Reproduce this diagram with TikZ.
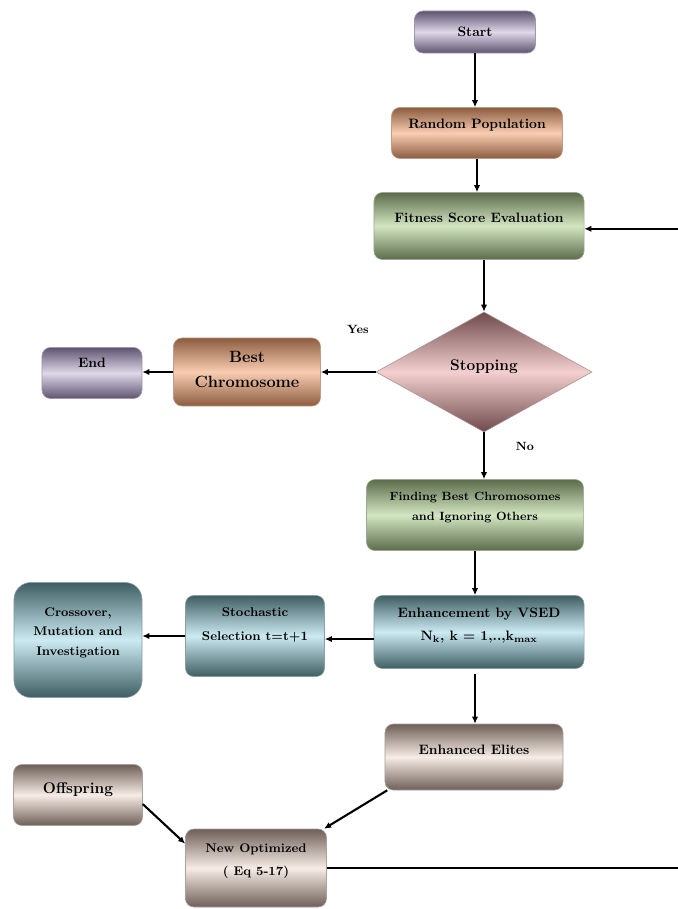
\documentclass[tikz,border=0pt]{standalone}
\usetikzlibrary{shapes.geometric,arrows.meta}

\definecolor{lilacdark}{HTML}{5E5470}
\definecolor{lilaclight}{HTML}{DED8E8}
\definecolor{peachdark}{HTML}{8C5C3E}
\definecolor{peachlight}{HTML}{F9CDB2}
\definecolor{sagedark}{HTML}{5B6C4A}
\definecolor{sagelight}{HTML}{D3E6C2}
\definecolor{rosedark}{HTML}{6E4A4C}
\definecolor{roselight}{HTML}{F3CFCF}
\definecolor{tealdark}{HTML}{3F5E63}
\definecolor{teallight}{HTML}{CBEAF2}
\definecolor{taupedark}{HTML}{6E6058}
\definecolor{taupelight}{HTML}{F7ECE6}

\begin{document}
\begin{tikzpicture}[
  x=0.025cm, y=-0.025cm,
  shade/.style 2 args={
    top color=#1,
    bottom color=#1,
    middle color=#2
  },
  box/.style={
    rectangle,
    rounded corners=6pt,
    draw=#1!60,
    line width=0.4pt,
    align=center,
    inner sep=2pt,
    font=\bfseries\fontsize{9.7}{14}\selectfont
  },
  lilacbox/.style={box=lilacdark, shade={lilacdark}{lilaclight}},
  peachbox/.style={box=peachdark, shade={peachdark}{peachlight}},
  sagebox/.style={box=sagedark, shade={sagedark}{sagelight}},
  tealbox/.style={box=tealdark, shade={tealdark}{teallight}},
  taupebox/.style={box=taupedark, shade={taupedark}{taupelight}},
  lift/.style={text depth=#1},
  arr/.style={
    -{Latex[length=5pt,width=4.5pt]},
    line width=1.5pt,
    black
  },
  tag/.style={
    font=\bfseries\fontsize{8.5}{10}\selectfont
  },
]
\useasboundingbox (0,0) rectangle (678,909);

\node[lilacbox, minimum width=3.025cm, minimum height=1.05cm] (start) at (475,32) {Start};
\node[peachbox, minimum width=4.275cm, minimum height=1.275cm, lift=13pt] (rand) at (477,133) {Random Population};
\node[sagebox, minimum width=5.25cm, minimum height=1.675cm, lift=12pt] (fit) at (479,226) {Fitness Score Evaluation};
\node[diamond, draw=rosedark!60, shade={rosedark}{roselight}, minimum width=5.4cm, minimum height=3cm,
  inner sep=0pt, lift=10pt, font=\bfseries\fontsize{11}{13}\selectfont] (stop) at (484,372) {Stopping};
\node[peachbox, minimum width=3.675cm, minimum height=1.7cm, lift=4pt,
  font=\bfseries\fontsize{11.6}{17.5}\selectfont] (best) at (247,372) {Best\\Chromosome};
\node[lilacbox, minimum width=2.5cm, minimum height=1.275cm, lift=14pt] (end) at (92,373) {End};
\node[sagebox, minimum width=5.425cm, minimum height=1.775cm, lift=12pt,
  font=\bfseries\fontsize{8.5}{14}\selectfont] (find) at (475,515) {Finding Best Chromosomes\\and Ignoring Others};
\node[tealbox, minimum width=5.25cm, minimum height=1.825cm, lift=11pt,
  font=\bfseries\fontsize{9.7}{16}\selectfont] (enh) at (479,632) {Enhancement by VSED\\N\textsubscript{k}, k = 1,..,k\textsubscript{max}};
\node[tealbox, minimum width=3.475cm, minimum height=2.025cm, lift=17pt,
  font=\bfseries\fontsize{9}{17}\selectfont] (stoch) at (255,636) {Stochastic\\Selection t=t+1};
\node[tealbox, rounded corners=12pt, minimum width=3.2cm, minimum height=2.875cm, lift=12pt,
  font=\bfseries\fontsize{8.9}{14}\selectfont] (cross) at (78,640) {Crossover,\\Mutation and\\Investigation};
\node[taupebox, minimum width=4.45cm, minimum height=1.65cm, lift=11pt] (elite) at (474,757) {Enhanced Elites};
\node[taupebox, minimum width=3.225cm, minimum height=1.525cm, lift=10pt,
  font=\bfseries\fontsize{11}{14}\selectfont] (off) at (78,795) {Offspring};
\node[taupebox, minimum width=3.525cm, minimum height=1.95cm, lift=12pt,
  font=\bfseries\fontsize{8.9}{16}\selectfont] (newopt) at (256,868) {New Optimized\\( Eq 5-17)};

\node[tag] (yes) at (358,329) {Yes};
\node[tag] (no) at (525,446) {No};
\coordinate (fb) at (700,0);

\draw[arr] (start) -- (start |- rand.north);
\draw[arr] (rand) -- (rand |- fit.north);
\draw[arr] (fit.south -| stop.north) -- (stop.north);
\draw[arr] (stop.west) -- (best.east |- stop.west);
\draw[arr] (best.west) -- (end.east |- best.west);
\draw[arr] (stop.south) -- (stop.south |- find.north);
\draw[arr] (find) -- (find |- enh.north);
\draw[arr] ([yshift=-5pt]enh.west) -- ([yshift=-5pt]enh.west -| stoch.east);
\draw[arr] (stoch.west) -- (stoch.west -| cross.east);
\draw[arr, shorten <=4pt] (enh.south -| find.south) -- (find.south |- elite.north);
\draw[arr] (elite.201) -- (newopt.30);
\draw[arr] (off.-8) -- (newopt.161);
\draw[arr] (newopt.east) -- (newopt.east -| fb) |- ([yshift=-2pt]fit.east);
\end{tikzpicture}
\end{document}
